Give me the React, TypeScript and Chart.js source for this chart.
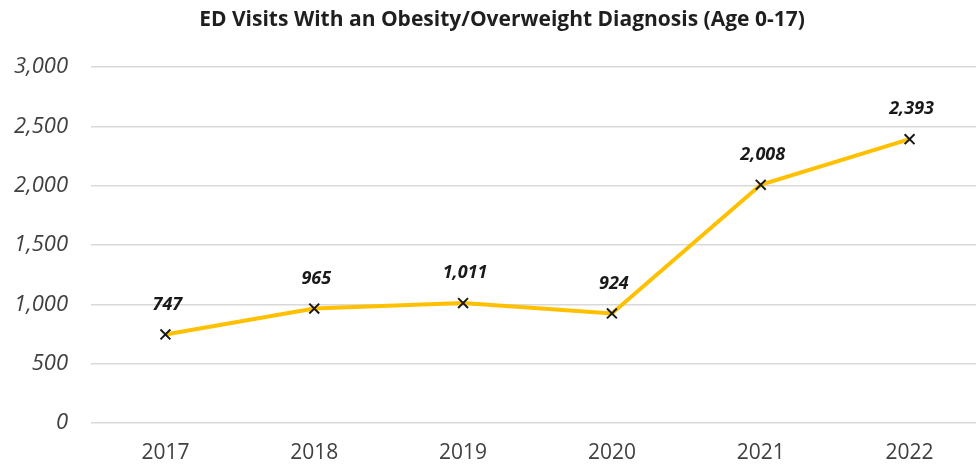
import React, { useEffect, useRef } from "react";
import { Chart, registerables } from "chart.js";

Chart.register(...registerables);

const TITLE = "ED Visits With an Obesity/Overweight Diagnosis (Age 0-17)";
const YEARS = ["2017", "2018", "2019", "2020", "2021", "2022"];
const VISITS = [747, 965, 1011, 924, 2008, 2393];
const Y_MIN = 0;
const Y_MAX = 3000;
const Y_STEP = 500;

const FONT = "'Open Sans', 'Noto Sans', sans-serif";

const fmt = (v: number) => Number(v).toLocaleString("en-US");

const dataLabelPlugin = {
  id: "dataLabels",
  afterLayout(chart: any) {
    // let the y tick labels use the space to the left of the axis box
    chart.scales.y.left = 0;
  },
  afterDatasetsDraw(chart: any) {
    const ctx = chart.ctx;
    const meta = chart.getDatasetMeta(0);
    const data = chart.data.datasets[0].data as number[];
    ctx.save();
    ctx.font = `italic bold 18px ${FONT}`;
    ctx.fillStyle = "#1a1a1a";
    ctx.textAlign = "center";
    ctx.textBaseline = "middle";
    meta.data.forEach((pt: any, i: number) => {
      ctx.fillText(fmt(data[i]), pt.x + 2, pt.y - 30);
    });
    ctx.restore();
  },
};

export default function App() {
  const ref = useRef<HTMLCanvasElement | null>(null);
  useEffect(() => {
    if (!ref.current) return;
    const chart = new Chart(ref.current, {
      type: "line",
      data: {
        labels: YEARS,
        datasets: [
          {
            data: VISITS,
            borderColor: "#FFC000",
            borderWidth: 4,
            tension: 0,
            pointStyle: "crossRot",
            pointRadius: 7,
            pointBorderColor: "#1a1a1a",
            pointBorderWidth: 2,
            pointBackgroundColor: "#1a1a1a",
          },
        ],
      },
      options: {
        responsive: false,
        animation: false,
        devicePixelRatio: 1,
        layout: { padding: { left: 11, right: 0, top: 0, bottom: 0 } },
        plugins: {
          legend: { display: false },
          tooltip: { enabled: false },
          title: {
            display: true,
            text: TITLE,
            color: "#1f1f1f",
            font: { family: FONT, size: 21, weight: "bold" },
            padding: { top: 7, bottom: 35 },
          },
        },
        scales: {
          x: {
            offset: true,
            grid: { display: false },
            border: { display: false },
            ticks: {
              color: "#404040",
              font: { family: FONT, size: 21 },
              padding: 9,
            },
            afterFit: (s: any) => {
              s.height = 46;
            },
          },
          y: {
            min: Y_MIN,
            max: Y_MAX,
            border: { display: false },
            grid: { color: "#d9d9d9", lineWidth: 1.5, drawTicks: false },
            ticks: {
              stepSize: Y_STEP,
              color: "#404040",
              font: { family: FONT, size: 22, style: "italic" },
              padding: 23,
              callback: (v: any) => fmt(v),
            },
            afterFit: (s: any) => {
              s.width = 80;
            },
          },
        },
      },
      plugins: [dataLabelPlugin],
    });
    return () => chart.destroy();
  }, []);
  return (
    <div
      style={{
        position: "fixed",
        left: 0,
        top: 0,
        width: 976,
        height: 469,
        overflow: "hidden",
        background: "#fff",
      }}
    >
      <canvas ref={ref} width={993} height={469} style={{ display: "block" }} />
    </div>
  );
}
